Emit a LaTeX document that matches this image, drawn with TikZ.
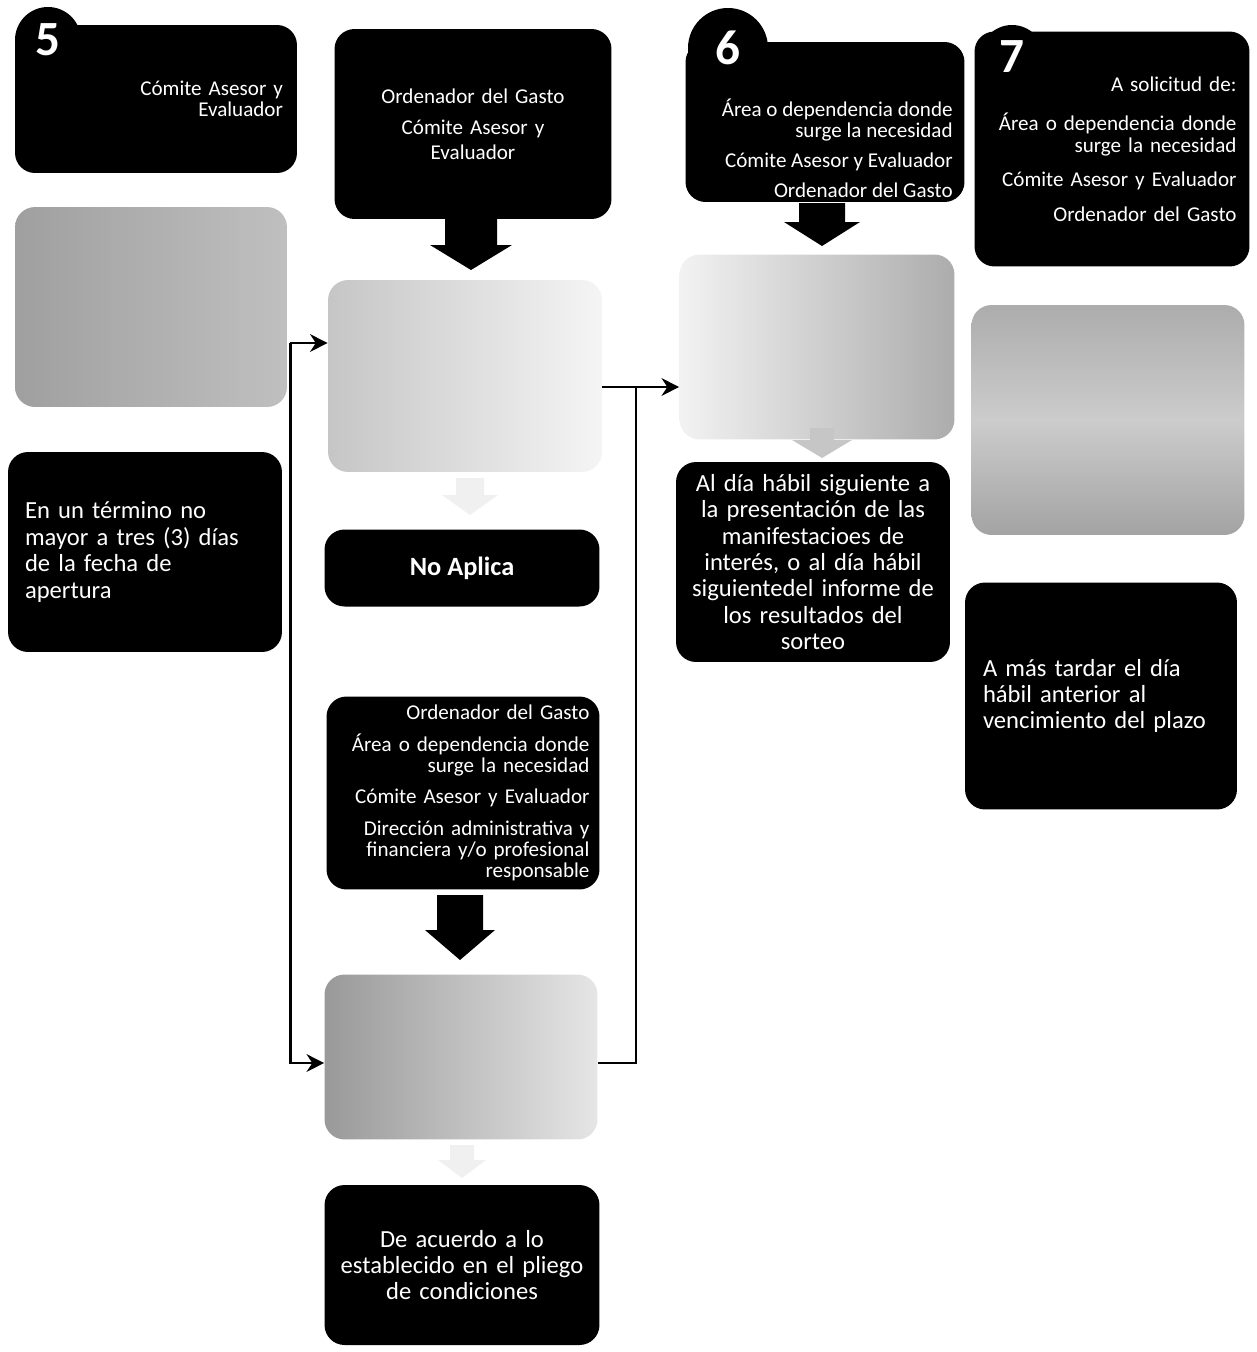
\documentclass[tikz,border=0pt]{standalone}
\usepackage{fontspec}
\setmainfont{Carlito}
\usetikzlibrary{calc,arrows.meta}
\tikzset{
darkbox/.style={fill=black, rounded corners=0.4cm, inner ysep=0pt},
grainbox/.style={rounded corners=0.4cm, inner sep=0pt},
smalltxt/.style={text=white, font=\fontsize{12}{12}\selectfont},
bigtxt/.style={text=white, font=\fontsize{14}{15}\selectfont},
badgetxt/.style={text=white, font=\fontsize{28}{28}\selectfont\bfseries, inner sep=0pt},
flow/.style={line width=1.5pt, -{Stealth[length=10pt,width=10pt]}},
flowplain/.style={line width=1.5pt}
}
\newcommand{\numbadge}[5]{%
\fill (#1,#2) circle (#3);
\node[badgetxt] (#4) at (#1,#2) {#5};
}
\newcommand{\downblock}[7]{%
\fill[#7] ({#1-#5},#2) -- ({#1+#5},#2) -- ({#1+#5},#3) -- ({#1+#6},#3) -- (#1,#4) -- ({#1-#6},#3) -- ({#1-#5},#3) -- cycle;
}

\begin{document}
\begin{tikzpicture}[x=0.02cm,y=-0.02cm]

\useasboundingbox (0,0) rectangle (1257,1352);



\node[darkbox, minimum width=5.64cm, minimum height=2.96cm, inner xsep=0.28cm, text width=5.08cm, align=right, smalltxt] (b5a) at (156,99) {Cómite Asesor y\\Evaluador};
\numbadge{48}{40}{33}{n5}{5}

\node[grainbox, minimum width=5.44cm, minimum height=4cm, left color=gray!75, right color=gray!50] (b5b) at (151,307) {};

\node[darkbox, minimum width=5.48cm, minimum height=4cm, inner xsep=0.34cm, text width=4.8cm, align=left, bigtxt] (b5c) at (145,552) {En un término no\\mayor a tres (3) días\\de la fecha de\\apertura};



\node[darkbox, minimum width=5.54cm, minimum height=3.8cm, text width=5cm, align=center, smalltxt] (c2a) at (473,124) {Ordenador del Gasto\\[6pt]Cómite Asesor y\\[2pt]Evaluador};
\downblock{471}{218}{245}{270}{26}{41}{black}

\node[grainbox, minimum width=5.48cm, minimum height=3.84cm, left color=gray!45, right color=gray!8] (c2b) at (465,376) {};
\downblock{470}{478}{495}{515}{14}{28}{gray!12}

\node[darkbox, minimum width=5.5cm, minimum height=1.54cm, text=white, font=\fontsize{15}{15}\selectfont\bfseries] (c2c) at (462,568) {No Aplica};

\node[darkbox, minimum width=5.46cm, minimum height=3.86cm, inner xsep=0.2cm, text width=5.06cm, align=right, smalltxt] (c2d) at (463,793) {Ordenador del Gasto\\[6pt]Área o dependencia donde\\surge la necesidad\\[6pt]Cómite Asesor y Evaluador\\[6pt]Dirección administrativa y\\financiera y/o profesional\\responsable};
\downblock{460}{895}{930}{960}{23}{35}{black}

\node[grainbox, minimum width=5.46cm, minimum height=3.3cm, left color=gray!80, right color=gray!20] (c2e) at (461,1057) {};
\downblock{462}{1145}{1160}{1178}{12}{24}{gray!12}

\node[darkbox, minimum width=5.5cm, minimum height=3.2cm, text width=5cm, align=center, bigtxt] (c2f) at (462,1265) {De acuerdo a lo\\establecido en el pliego\\de condiciones};



\node[darkbox, minimum width=5.58cm, minimum height=3.2cm] (b6a) at (825,122) {};
\numbadge{728}{48}{40}{n6}{6}
\node[smalltxt, align=right, anchor=east, inner sep=0pt] (t6a) at (953,148) {Área o dependencia donde\\surge la necesidad\\[5pt]Cómite Asesor y Evaluador\\[5pt]Ordenador del Gasto};
\downblock{822}{203}{222}{246}{23}{38}{black}

\node[grainbox, minimum width=5.5cm, minimum height=3.7cm, left color=gray!10, right color=gray!65] (b6b) at (817,347) {};
\downblock{822}{428}{440}{458}{12}{30}{gray!45}

\node[darkbox, minimum width=5.48cm, minimum height=4cm, text width=5.1cm, align=center, bigtxt] (b6c) at (813,562) {Al día hábil siguiente a\\la presentación de las\\manifestacioes de\\interés, o al día hábil\\siguientedel informe de\\los resultados del\\sorteo};



\node[darkbox, minimum width=5.5cm, minimum height=4.7cm, inner xsep=0.26cm, text width=4.98cm, align=right, font=\fontsize{12}{12.5}\selectfont, text=white] (b7a) at (1112,149) {A solicitud de:\\[10pt]Área o dependencia donde\\surge la necesidad\\[7pt]Cómite Asesor y Evaluador\\[7pt]Ordenador del Gasto};
\numbadge{1012}{57}{32}{n7}{7}

\node[grainbox, minimum width=5.46cm, minimum height=4.6cm, top color=gray!65, bottom color=gray!72, middle color=gray!40] (b7b) at (1108,420) {};

\node[darkbox, minimum width=5.44cm, minimum height=4.54cm, inner xsep=0.36cm, text width=4.72cm, align=left, bigtxt] (b7c) at (1101,696) {A más tardar el día\\hábil anterior al\\vencimiento del plazo};



\coordinate (lsplit) at ($(b5b.east)+(3,36)$);
\draw[flow] (lsplit) -- (lsplit -| c2b.west);
\draw[flow] (lsplit) |- ($(c2e.west)+(0,6)$);

\coordinate (rjoin) at (636,387);
\draw[flowplain] (c2b.east |- rjoin) -- (rjoin);
\draw[flowplain] ($(c2e.east)+(0,6)$) -| (rjoin);
\draw[flow] (rjoin) -- (rjoin -| b6b.west);

\end{tikzpicture}
\end{document}
